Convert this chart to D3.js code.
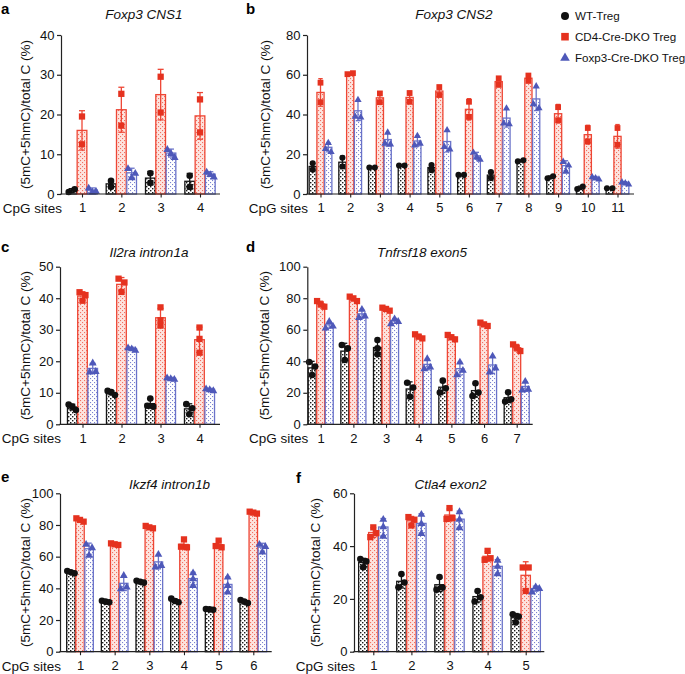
<!DOCTYPE html>
<html><head><meta charset="utf-8">
<script src="https://cdn.jsdelivr.net/npm/d3@7"></script>
<style>
body{margin:0;background:#fff}
svg{display:block;font-family:"Liberation Sans",Arial,Helvetica,sans-serif}
</style>
</head><body>
<svg id="chart" width="685" height="674"></svg>
<script>
// ---------------- DATA ----------------
const seriesNames = ["WT-Treg", "CD4-Cre-DKO Treg", "Foxp3-Cre-DKO Treg"];

// a: Foxp3 CNS1
const aTitle = "Foxp3 CNS1";
const aSites = ["1","2","3","4"];
const aTicks = [0,10,20,30,40];
const aWT    = [[0.5,1.2],[1.8,3.3],[5.2,2.8],[4.6,1.8]];
const aCD4   = [[19.5,12.5],[25.2,17.2],[29.5,20.5],[23.8,15.5]];
const aFoxp3 = [[1.6,0.6,0.8],[6.5,4.2,5.3],[11.3,10.3,9.3],[5.6,5.0,4.4]];

// b: Foxp3 CNS2
const bTitle = "Foxp3 CNS2";
const bSites = ["1","2","3","4","5","6","7","8","9","10","11"];
const bTicks = [0,20,40,60,80];
const bWT    = [[15.5,12.2],[18.2,13.8],[13.3,13.3],[14.3,14.3],[12.0,14.6],[9.6,9.6],[8.0,11.0],[16.4,17.0],[7.9,8.9],[2.5,3.7],[2.9,2.9]];
const bCD4   = [[56.0,46.2],[60.3,60.8],[50.6,46.2],[50.8,46.4],[53.8,49.8],[46.4,38.8],[58.2,54.9],[56.9,59.6],[43.7,37.1],[33.2,26.5],[33.2,24.8]];
const bFoxp3 = [[26.0,23.0,21.5],[47.6,39.2,38.8],[31.2,25.7,25.3],[29.5,24.8,25.7],[32.4,24.0,22.8],[21.1,18.9,17.6],[43.4,35.8,35.4],[54.5,45.5,43.5],[16.5,14.7,11.6],[8.8,8.2,7.6],[6.2,5.7,5.1]];

// c: Il2ra intron1a
const cTitle = "Il2ra intron1a";
const cSites = ["1","2","3","4"];
const cTicks = [0,10,20,30,40,50];
const cWT    = [[6.3,5.6,4.5],[10.6,10.2,9.3],[8.2,5.9,5.6],[6.4,5.1,3.2]];
const cCD4   = [[39.2,41.9,41.0],[46.2,42.0,45.0],[31.3,37.1,33.0],[22.7,27.1,30.7]];
const cFoxp3 = [[16.7,19.6,16.9],[24.4,24.1,23.6],[14.9,14.6,14.4],[11.4,11.1,10.8]];

// d: Tnfrsf18 exon5
const dTitle = "Tnfrsf18 exon5";
const dSites = ["1","2","3","4","5","6","7"];
const dTicks = [0,20,40,60,80,100];
const dWT    = [[31.3,39.5,36.6],[50.3,40.8,48.2],[44.4,53.5,48.2],[26.4,17.5,23.3],[20.1,27.7,22.8],[18.0,26.0,20.1],[14.4,20.3,15.9]];
const dCD4   = [[78.2,76.1,74.6],[81.0,79.9,78.2],[74.0,73.2,72.1],[57.1,55.6,54.5],[56.7,55.2,53.9],[64.5,63.4,62.4],[50.7,48.6,46.5]];
const dFoxp3 = [[61.3,65.5,62.6],[68.0,73.2,69.0],[64.1,67.2,65.5],[35.5,41.9,36.6],[31.7,39.7,34.5],[33.4,43.6,35.9],[22.0,27.5,22.5]];

// e: Ikzf4 intron1b
const eTitle = "Ikzf4 intron1b";
const eSites = ["1","2","3","4","5","6"];
const eTicks = [0,20,40,60,80,100];
const eWT    = [[50.9,50.1,49.5],[32.2,31.6,31.2],[44.8,44.2,43.6],[33.5,32.0,31.2],[27.0,26.7,26.5],[32.6,31.6,30.7]];
const eCD4   = [[84.2,83.2,82.1],[68.4,67.8,67.4],[79.4,78.5,77.9],[70.9,66.3,65.9],[70.1,66.7,65.9],[88.4,87.8,87.2]];
const eFoxp3 = [[68.0,61.1,65.9],[40.0,48.4,41.1],[53.7,61.7,54.7],[42.1,50.1,46.3],[37.9,47.4,42.1],[63.2,68.0,66.7]];

// f: Ctla4 exon2
const fTitle = "Ctla4 exon2";
const fSites = ["1","2","3","4","5"];
const fTicks = [0,20,40,60];
const fWT    = [[32.0,35.1,34.2],[24.4,29.4,26.2],[23.5,28.3,24.3],[19.0,23.0,20.6],[11.1,14.2,13.3]];
const fCD4   = [[43.4,47.1,44.9],[47.8,51.0,50.0],[50.3,54.4,50.6],[34.8,38.2,35.4],[31.9,23.0,31.9]];
const fFoxp3 = [[43.9,50.3,47.5],[44.9,52.2,48.7],[47.1,53.2,50.3],[29.7,34.8,32.5],[22.8,24.7,24.1]];

// ---------------- LAYOUT ----------------
const panels = [
  {letter:"a", title:aTitle, sites:aSites, ticks:aTicks, data:[aWT,aCD4,aFoxp3],
   ax:61, axEnd:220, t0:82, t1:200, yTop:35, yBot:194, ylx:25.5, lx:1, ly:14, tcx:144, tby:19},
  {letter:"b", title:bTitle, sites:bSites, ticks:bTicks, data:[bWT,bCD4,bFoxp3],
   ax:307, axEnd:634, t0:320.5, t1:617.5, yTop:35, yBot:194, ylx:265.5, lx:246, ly:14, tcx:454, tby:19},
  {letter:"c", title:cTitle, sites:cSites, ticks:cTicks, data:[cWT,cCD4,cFoxp3],
   ax:60, axEnd:220, t0:82.5, t1:199.5, yTop:266.7, yBot:424.3, ylx:25.5, lx:1, ly:252, tcx:149, tby:256.5},
  {letter:"d", title:dTitle, sites:dSites, ticks:dTicks, data:[dWT,dCD4,dFoxp3],
   ax:307.3, axEnd:532.7, t0:320.7, t1:516.7, yTop:266.7, yBot:424.3, ylx:264, lx:246, ly:252, tcx:422, tby:256.5},
  {letter:"e", title:eTitle, sites:eSites, ticks:eTicks, data:[eWT,eCD4,eFoxp3],
   ax:60, axEnd:271.7, t0:80, t1:253.3, yTop:493.3, yBot:651.7, ylx:25.5, lx:1, ly:482, tcx:169.5, tby:489},
  {letter:"f", title:fTitle, sites:fSites, ticks:fTicks, data:[fWT,fCD4,fFoxp3],
   ax:354, axEnd:544.3, t0:373.3, t1:525.7, yTop:493.3, yBot:651.7, ylx:315.3, lx:296, ly:483, tcx:450.5, tby:489}
];

const strokeCol = ["#151515", "#ee4635", "#6a73c9"];
const markCol   = ["#111111", "#e5321f", "#4e58b9"];
const patId     = ["patWT", "patCD4", "patFox"];
const shapes    = ["circle", "square", "triangle"];

const svg = d3.select("#chart");
const defs = svg.append("defs");

function makePattern(id, bg, dot, size){
  const p = defs.append("pattern").attr("id", id).attr("patternUnits","userSpaceOnUse")
    .attr("width",4).attr("height",4);
  p.append("rect").attr("width",4).attr("height",4).attr("fill",bg);
  p.append("rect").attr("x",0).attr("y",0).attr("width",size).attr("height",size).attr("fill",dot);
  p.append("rect").attr("x",2).attr("y",2).attr("width",size).attr("height",size).attr("fill",dot);
}
makePattern("patWT", "#ffffff", "#1a1a1a", 1.4);
makePattern("patCD4", "#fde4df", "#f27060", 1.1);
makePattern("patFox", "#ffffff", "#7a82d0", 1.1);

function mean(a){ return d3.mean(a); }
function sd(a){ return a.length > 1 ? d3.deviation(a) : 0; }

function drawMarker(g, shape, x, y, ms, col){
  if(shape === "circle"){
    g.append("circle").attr("cx",x).attr("cy",y).attr("r",ms/2).attr("fill",col);
  } else if(shape === "square"){
    const s = ms*0.95;
    g.append("rect").attr("x",x-s/2).attr("y",y-s/2).attr("width",s).attr("height",s).attr("fill",col);
  } else {
    const sym = d3.symbol().type(d3.symbolTriangle).size(ms*ms*0.62);
    g.append("path").attr("d",sym()).attr("transform",`translate(${x},${y+0.6})`).attr("fill",col);
  }
}

function layoutPoints(vals, y, ms){
  const pts = vals.map((v,i)=>({v, i, py:y(v), dx:0}));
  const sorted = pts.slice().sort((a,b)=>a.py-b.py);
  const rows = []; let cur = [sorted[0]];
  for(let k=1;k<sorted.length;k++){
    if(sorted[k].py - sorted[k-1].py < ms*0.75) cur.push(sorted[k]);
    else { rows.push(cur); cur=[sorted[k]]; }
  }
  rows.push(cur);
  rows.forEach(r=>{
    r.sort((a,b)=>a.i-b.i);
    const n = r.length;
    const d = n === 2 ? ms*0.9 : ms*0.55;
    r.forEach((p,j)=>{ p.dx = (j-(n-1)/2)*d; });
  });
  return pts;
}

panels.forEach(P => {
  const g = svg.append("g");
  const maxT = P.ticks[P.ticks.length-1];
  const y = d3.scaleLinear().domain([0, maxT]).range([P.yBot, P.yTop]);
  const x = d3.scalePoint().domain(P.sites).range([P.t0, P.t1]);
  const spacing = x.step();
  const step = spacing*0.262;
  const w = step - 0.6;
  const ms = Math.min(6.6, w*0.85);
  const capW = w*0.62;

  // bars
  P.data.forEach((series, si) => {
    series.forEach((vals, ci) => {
      const cx = x(P.sites[ci]) + (si-1)*step;
      const m = mean(vals);
      g.append("rect")
        .attr("x", cx - w/2).attr("y", y(m))
        .attr("width", w).attr("height", P.yBot - y(m))
        .attr("fill", `url(#${patId[si]})`)
        .attr("stroke", strokeCol[si]).attr("stroke-width", 1.3);
    });
  });
  // error bars
  P.data.forEach((series, si) => {
    series.forEach((vals, ci) => {
      const cx = x(P.sites[ci]) + (si-1)*step;
      const m = mean(vals), s = sd(vals);
      const lo = y(Math.max(0, m - s)), hi = y(m + s);
      const eg = g.append("g").attr("stroke", strokeCol[si]).attr("stroke-width", 1.3);
      eg.append("line").attr("x1",cx).attr("x2",cx).attr("y1",lo).attr("y2",hi);
      eg.append("line").attr("x1",cx-capW/2).attr("x2",cx+capW/2).attr("y1",hi).attr("y2",hi);
      eg.append("line").attr("x1",cx-capW/2).attr("x2",cx+capW/2).attr("y1",lo).attr("y2",lo);
    });
  });
  // points
  P.data.forEach((series, si) => {
    series.forEach((vals, ci) => {
      const cx = x(P.sites[ci]) + (si-1)*step;
      layoutPoints(vals, y, ms).forEach(p => drawMarker(g, shapes[si], cx + p.dx, p.py, ms, markCol[si]));
    });
  });

  // y axis
  const ya = g.append("g").attr("transform", `translate(${P.ax},0)`)
    .call(d3.axisLeft(y).tickValues(P.ticks).tickSize(4).tickSizeOuter(0).tickPadding(2.5).tickFormat(d3.format("d")));
  ya.select(".domain").attr("stroke","#222").attr("stroke-width",1.2);
  ya.selectAll(".tick line").attr("stroke","#222").attr("stroke-width",1.2);
  ya.selectAll("text").attr("font-size",13).attr("fill","#111").style("font-family",'"Liberation Sans",Arial,sans-serif');

  // x axis
  const xa = g.append("g").attr("transform", `translate(0,${P.yBot})`)
    .call(d3.axisBottom(x).tickSize(3.5).tickSizeOuter(0).tickPadding(5.5));
  xa.select(".domain").remove();
  xa.selectAll(".tick line").attr("stroke","#222").attr("stroke-width",1.1);
  xa.selectAll("text").attr("font-size",13).attr("fill","#111").style("font-family",'"Liberation Sans",Arial,sans-serif');
  g.append("line").attr("x1",P.ax - 0.6).attr("x2",P.axEnd).attr("y1",P.yBot).attr("y2",P.yBot)
    .attr("stroke","#222").attr("stroke-width",1.2);

  g.append("text").attr("x", P.ax + 1).attr("y", P.yBot + 19)
    .attr("text-anchor","end").attr("font-size",13.5).attr("fill","#111").text("CpG sites");

  // y label
  g.append("text")
    .attr("transform", `translate(${P.ylx},${(P.yTop+P.yBot)/2}) rotate(-90)`)
    .attr("text-anchor","middle").attr("dy","0.35em")
    .attr("font-size",13.5).attr("fill","#111").text("(5mC+5hmC)/total C (%)");

  // title
  g.append("text").attr("x", P.tcx).attr("y", P.tby).attr("text-anchor","middle")
    .attr("font-size",13.5).attr("font-style","italic").attr("fill","#111").text(P.title);

  // panel letter
  g.append("text").attr("x", P.lx).attr("y", P.ly).attr("font-size",15).attr("font-weight","bold")
    .attr("fill","#000").text(P.letter);
});

// legend
const lg = svg.append("g").attr("transform","translate(565,0)");
const legY = [16, 36.7, 57.5];
seriesNames.forEach((name, i) => {
  drawMarker(lg, shapes[i], 0, legY[i], 8, markCol[i]);
  lg.append("text").attr("x", 10).attr("y", legY[i]).attr("dy","0.35em")
    .attr("font-size",11.6).attr("fill","#111").text(name);
});
</script>
</body></html>
